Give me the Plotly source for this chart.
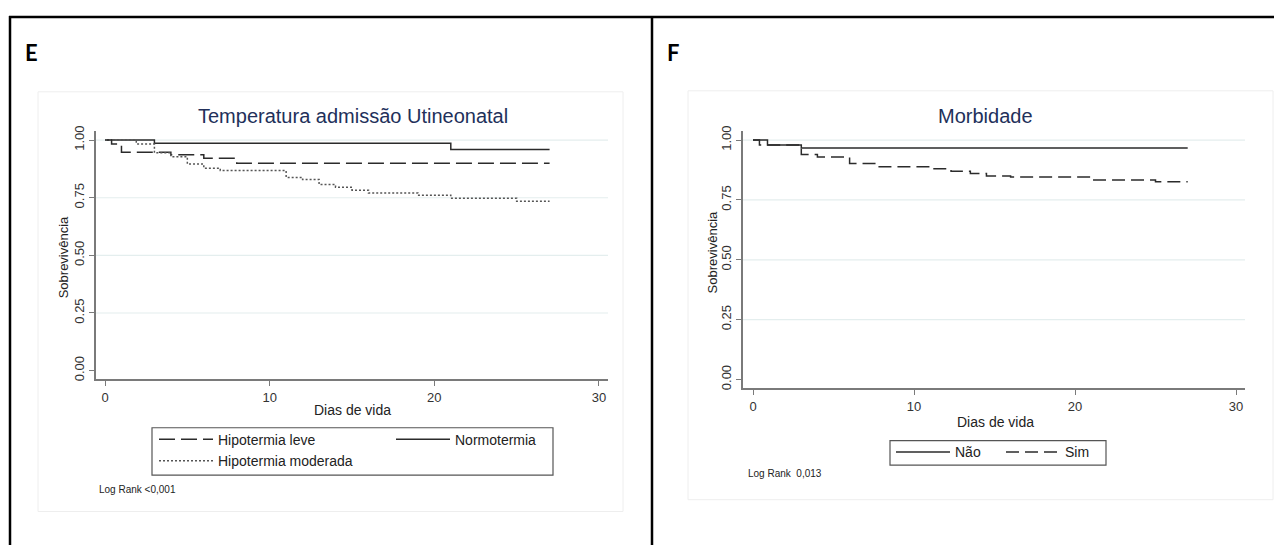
import plotly.graph_objects as go

# The page body has an 8px margin, so the figure is drawn at (8, 8) in the window.
OFF = 8
W, H = 1282 - OFF, 547 - OFF

# ---------------- data (Kaplan-Meier step curves) ----------------
# Panel E: Temperatura admissão Utineonatal
leve_t = [0, 0.4, 1, 4, 6, 8, 27]
leve_s = [1.0, 0.983, 0.947, 0.936, 0.921, 0.900, 0.900]

normo_t = [0, 3, 21, 27]
normo_s = [1.0, 0.986, 0.959, 0.959]

moder_t = [0, 1.9, 3, 4, 5, 6, 7, 11, 12, 13, 14, 15, 16, 19, 21, 25, 27]
moder_s = [1.0, 0.983, 0.945, 0.928, 0.896, 0.878, 0.868, 0.838, 0.829, 0.807,
           0.796, 0.783, 0.771, 0.761, 0.748, 0.735, 0.735]

# Panel F: Morbidade
nao_t = [0, 0.9, 3, 27]
nao_s = [1.0, 0.980, 0.967, 0.967]

sim_t = [0, 0.4, 3, 4, 6, 7.7, 11, 12.3, 13.5, 14.5, 16, 21, 25, 27]
sim_s = [1.0, 0.980, 0.940, 0.929, 0.902, 0.889, 0.880, 0.870, 0.860, 0.850,
         0.846, 0.833, 0.826, 0.826]

x_ticks = [0, 10, 20, 30]
y_ticks = [0, 0.25, 0.5, 0.75, 1.0]
y_ticktext = ["0.00", "0.25", "0.50", "0.75", "1.00"]
grid_vals = [0.25, 0.5, 0.75, 1.0]

titles = ["Temperatura admissão Utineonatal", "Morbidade"]
panel_labels = ["E", "F"]
x_title = "Dias de vida"
y_title = "Sobrevivência"
logrank = ["Log Rank <0,001", "Log Rank  0,013"]


def px(x):
    return (x - OFF) / W


def py(y):
    return 1 - (y - OFF) / H


FONT = "Liberation Sans, Arial, sans-serif"
LINE = "#2b2b2b"
AXIS = "#7a7a7a"
GRID = "#e4eeee"
TITLE = "#22305a"

fig = go.Figure()

# Panel E traces
fig.add_trace(go.Scatter(x=leve_t, y=leve_s, mode="lines", line_shape="hv",
                         name="Hipotermia leve", legend="legend",
                         line=dict(color=LINE, width=1.5, dash="16px,6px"),
                         xaxis="x", yaxis="y"))
fig.add_trace(go.Scatter(x=normo_t, y=normo_s, mode="lines", line_shape="hv",
                         name="Normotermia", legend="legend2",
                         line=dict(color=LINE, width=1.5),
                         xaxis="x", yaxis="y"))
fig.add_trace(go.Scatter(x=moder_t, y=moder_s, mode="lines", line_shape="hv",
                         name="Hipotermia moderada", legend="legend3",
                         line=dict(color="#555555", width=1.5, dash="2px,2px"),
                         xaxis="x", yaxis="y"))
# Panel F traces
fig.add_trace(go.Scatter(x=nao_t, y=nao_s, mode="lines", line_shape="hv",
                         name="Não", legend="legend4",
                         line=dict(color=LINE, width=1.5),
                         xaxis="x2", yaxis="y2"))
fig.add_trace(go.Scatter(x=sim_t, y=sim_s, mode="lines", line_shape="hv",
                         name="Sim", legend="legend5",
                         line=dict(color=LINE, width=1.5, dash="13px,6px"),
                         xaxis="x2", yaxis="y2"))

axis_common = dict(showline=True, linecolor=AXIS, linewidth=1.5,
                   ticks="outside", ticklen=5, tickwidth=1.2, tickcolor=AXIS,
                   showgrid=False, zeroline=False, mirror=False,
                   tickfont=dict(family=FONT, size=13, color="#333333"))

fig.update_layout(
    width=W, height=H,
    margin=dict(l=0, r=0, t=0, b=0),
    paper_bgcolor="white", plot_bgcolor="white",
    xaxis=dict(domain=[px(96), px(608)], range=[-0.547, 30.547],
               tickvals=x_ticks, anchor="y", **axis_common),
    yaxis=dict(domain=[py(379), py(127)], range=[-0.0385, 1.0385],
               tickvals=y_ticks, ticktext=y_ticktext, tickangle=-90,
               anchor="x", **axis_common),
    xaxis2=dict(domain=[px(743), px(1245)], range=[-0.621, 30.559],
                tickvals=x_ticks, anchor="y2", **axis_common),
    yaxis2=dict(domain=[py(388), py(127)], range=[-0.037, 1.037],
                tickvals=y_ticks, ticktext=y_ticktext, tickangle=-90,
                anchor="x2", **axis_common),
    showlegend=True,
)

leg_common = dict(bgcolor="rgba(0,0,0,0)", borderwidth=0, orientation="v",
                  xanchor="left", yanchor="middle", itemwidth=54,
                  font=dict(family=FONT, size=14, color="#222222"))
fig.update_layout(
    legend=dict(x=px(154), y=py(440), **leg_common),
    legend2=dict(x=px(391), y=py(440), **leg_common),
    legend3=dict(x=px(154), y=py(462), **leg_common),
    legend4=dict(x=px(891), y=py(453), **leg_common),
    legend5=dict(x=px(1001), y=py(453), **leg_common),
)

shapes = []
# outer frame lines
shapes.append(dict(type="line", xref="paper", yref="paper", x0=px(9), x1=1,
                   y0=py(11), y1=py(11), line=dict(color="black", width=2.5)))
shapes.append(dict(type="line", xref="paper", yref="paper", x0=px(10), x1=px(10),
                   y0=py(10), y1=0, line=dict(color="black", width=2.5)))
shapes.append(dict(type="line", xref="paper", yref="paper", x0=px(652), x1=px(652),
                   y0=py(10), y1=0, line=dict(color="black", width=2.5)))
# faint inner graph regions
for (x0, y0, x1, y1) in [(38, 87, 623, 513), (688, 86, 1273, 501)]:
    shapes.append(dict(type="rect", xref="paper", yref="paper",
                       x0=px(x0), x1=px(x1), y0=py(y0), y1=py(y1),
                       line=dict(color="#eeeeee", width=1), layer="below"))
# grid lines
for ax in ["", "2"]:
    for v in grid_vals:
        shapes.append(dict(type="line", xref=f"x{ax} domain", yref=f"y{ax}",
                           x0=0, x1=1, y0=v, y1=v,
                           line=dict(color=GRID, width=1.2), layer="below"))
# legend boxes
for (x0, y0, x1, y1) in [(152, 428, 553, 476), (890, 441, 1106, 466)]:
    shapes.append(dict(type="rect", xref="paper", yref="paper",
                       x0=px(x0), x1=px(x1), y0=py(y0), y1=py(y1),
                       line=dict(color="#555555", width=1.2)))
fig.update_layout(shapes=shapes)


def note(text, x, y, size, color="#222222", family=FONT, xanchor="center", angle=0):
    return dict(text=text, x=px(x), y=py(y), xref="paper", yref="paper",
                xanchor=xanchor, yanchor="middle", textangle=angle,
                showarrow=False, font=dict(family=family, size=size, color=color))


LBL = "Lato, Open Sans, sans-serif"
ann = [
    note(f"<b>{panel_labels[0]}</b>", 31, 47, 22, "black", LBL),
    note(f"<b>{panel_labels[1]}</b>", 673, 47, 22, "black", LBL),
    note(titles[0], 353, 112, 20, TITLE),
    note(titles[1], 985, 112, 20, TITLE),
    note(x_title, 352, 410, 14),
    note(x_title, 995, 422, 14),
    note(y_title, 63, 255, 13, angle=-90),
    note(y_title, 712, 250, 13, angle=-90),
    note(logrank[0], 97, 491, 10, xanchor="left"),
    note(logrank[1], 746, 474, 10, xanchor="left"),
]
fig.update_layout(annotations=ann)

fig.write_html("out.html")
